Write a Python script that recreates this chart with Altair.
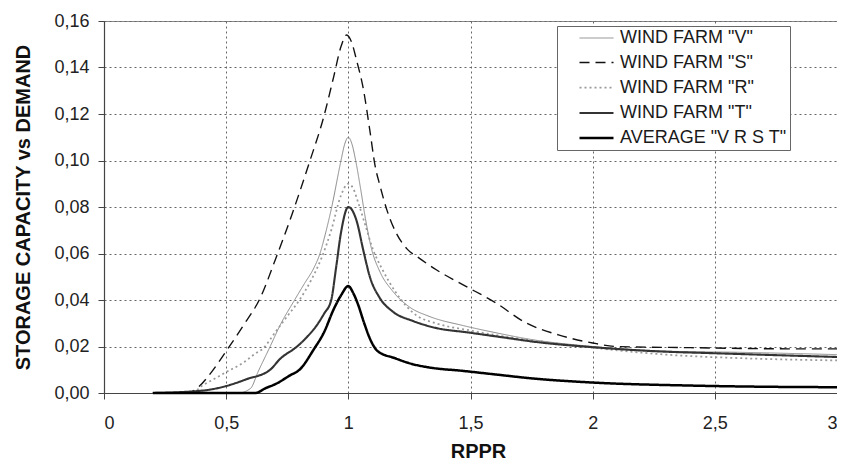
import altair as alt
import pandas as pd

# ---- data ----
SERIES = ['WIND FARM "V"', 'WIND FARM "S"', 'WIND FARM "R"', 'WIND FARM "T"', 'AVERAGE "V R S T"']

V_X = [0.20, 0.55, 0.60, 0.63, 0.68, 0.72, 0.78, 0.82, 0.86, 0.884, 0.905, 0.932, 0.97, 0.985, 1.00,
       1.015, 1.03, 1.05, 1.07, 1.095, 1.13, 1.18, 1.25, 1.33, 1.47, 1.60, 1.75, 2.00, 2.30, 2.60, 3.00]
V_Y = [0.000, 0.000, 0.002, 0.009, 0.020, 0.029, 0.040, 0.047, 0.054, 0.060, 0.068, 0.080, 0.100, 0.107, 0.110,
       0.107, 0.100, 0.088, 0.075, 0.062, 0.052, 0.044, 0.037, 0.033, 0.029, 0.026, 0.023, 0.020, 0.018, 0.0175, 0.0165]

S_X = [0.20, 0.34, 0.38, 0.44, 0.50, 0.57, 0.64, 0.70, 0.77, 0.84, 0.90, 0.94, 0.97, 0.993,
       1.013, 1.034, 1.061, 1.088, 1.109, 1.13, 1.16, 1.20, 1.24, 1.29, 1.36, 1.47, 1.60, 1.73, 1.86,
       2.00, 2.10, 2.40, 2.80, 3.00]
S_Y = [0.000, 0.000, 0.002, 0.009, 0.018, 0.029, 0.041, 0.057, 0.077, 0.099, 0.119, 0.136, 0.149, 0.154,
       0.151, 0.143, 0.131, 0.113, 0.098, 0.089, 0.078, 0.068, 0.062, 0.058, 0.053, 0.0465, 0.039, 0.030, 0.025,
       0.0215, 0.020, 0.0195, 0.019, 0.019]

R_X = [0.20, 0.36, 0.40, 0.45, 0.50, 0.57, 0.62, 0.65, 0.70, 0.75, 0.80, 0.85, 0.89, 0.93, 0.97, 1.00,
       1.02, 1.04, 1.07, 1.10, 1.14, 1.196, 1.277, 1.358, 1.493, 1.628, 1.764, 2.00, 2.30, 2.60, 3.00]
R_Y = [0.000, 0.000, 0.003, 0.006, 0.009, 0.013, 0.017, 0.019, 0.026, 0.033, 0.040, 0.049, 0.058, 0.070, 0.085, 0.090,
       0.088, 0.082, 0.072, 0.062, 0.053, 0.043, 0.0335, 0.030, 0.027, 0.0245, 0.0225, 0.0195, 0.0165, 0.015, 0.014]

T_X = [0.20, 0.40, 0.50, 0.585, 0.68, 0.72, 0.79, 0.83, 0.87, 0.90, 0.93, 0.95, 0.97, 1.00,
       1.034, 1.061, 1.088, 1.128, 1.182, 1.264, 1.358, 1.493, 1.628, 1.764, 2.00, 2.27, 2.50, 3.00]
T_Y = [0.000, 0.001, 0.003, 0.006, 0.010, 0.0146, 0.020, 0.024, 0.029, 0.034, 0.040, 0.054, 0.069, 0.080,
       0.074, 0.0615, 0.050, 0.041, 0.035, 0.031, 0.028, 0.026, 0.024, 0.022, 0.0197, 0.0179, 0.0171, 0.0155]

A_X = [0.20, 0.62, 0.66, 0.705, 0.76, 0.80, 0.86, 0.90, 0.94, 0.97, 1.00,
       1.02, 1.04, 1.065, 1.09, 1.12, 1.19, 1.26, 1.33, 1.47, 1.60, 1.76, 2.00, 2.40, 2.80, 3.00]
A_Y = [0.000, 0.000, 0.002, 0.004, 0.0075, 0.010, 0.019, 0.026, 0.036, 0.042, 0.046,
       0.043, 0.038, 0.030, 0.023, 0.018, 0.015, 0.0125, 0.011, 0.0095, 0.008, 0.0062, 0.0045, 0.0032, 0.0026, 0.0025]

X_TICKS = [0, 0.5, 1, 1.5, 2, 2.5, 3]
Y_TICKS = [0, 0.02, 0.04, 0.06, 0.08, 0.10, 0.12, 0.14, 0.16]

# ---- styles ----
COLORS = ["#8a8a8a", "#111111", "#9a9a9a", "#333333", "#000000"]
DASHES = [[1, 0], [10, 6], [2, 3], [1, 0], [1, 0]]
WIDTHS = [1.0, 2.5, 1.3, 2.2, 3.2]
FONT = "Liberation Sans"
NBSP2 = "\u00a0\u00a0"

rows = []
for name, xs, ys in zip(SERIES, [V_X, S_X, R_X, T_X, A_X], [V_Y, S_Y, R_Y, T_Y, A_Y]):
    for i, (x, y) in enumerate(zip(xs, ys)):
        rows.append({"series": name, "rppr": x, "ratio": y, "order": i})
df = pd.DataFrame(rows)

chart = alt.Chart(df).mark_line(interpolate="monotone").encode(
    x=alt.X("rppr:Q",
            scale=alt.Scale(domain=[0, 3], nice=False, zero=False),
            axis=alt.Axis(values=X_TICKS, title="RPPR",
                          labelExpr="replace(format(datum.value, '~g'), '.', ',')",
                          labelPadding=15, titlePadding=9, titleX=374)),
    y=alt.Y("ratio:Q",
            scale=alt.Scale(domain=[0, 0.16], nice=False),
            axis=alt.Axis(values=Y_TICKS, title="STORAGE CAPACITY vs DEMAND",
                          labelExpr="replace(format(datum.value, '.2f'), '.', ',')",
                          labelPadding=9, titlePadding=20)),
    color=alt.Color("series:N", scale=alt.Scale(domain=SERIES, range=COLORS),
                    legend=alt.Legend(title=None, orient="none", legendX=453, legendY=5,
                                      symbolType="M-2,0L2,0", symbolSize=289,
                                      symbolOffset=26.5, labelOffset=13.5,
                                      labelExpr="datum.label + '" + NBSP2 + "'",
                                      labelFont=FONT, labelFontSize=18, labelColor="#1a1a1a",
                                      labelLimit=0, rowPadding=6, padding=3,
                                      strokeColor="#666", fillColor="white")),
    strokeDash=alt.StrokeDash("series:N", scale=alt.Scale(domain=SERIES, range=DASHES)),
    strokeWidth=alt.StrokeWidth("series:N", scale=alt.Scale(domain=SERIES, range=WIDTHS)),
    order="order:Q",
).properties(
    width=733, height=372,
    autosize=alt.AutoSizeParams(type="none"),
    padding={"left": 96, "top": 13, "right": 0, "bottom": 67},
).configure_view(
    stroke="#888", strokeWidth=1
).configure_axis(
    domainColor="#444", domainWidth=1.2, tickColor="#444", tickSize=6,
    labelFont=FONT, labelFontSize=18, labelColor="#222",
    titleFont=FONT, titleFontSize=20, titleFontWeight="bold", titleColor="#111",
    gridColor="#666", gridDash=[2, 3], gridWidth=1,
)

chart.save("out.html", embed_options={"renderer": "svg", "actions": False})
